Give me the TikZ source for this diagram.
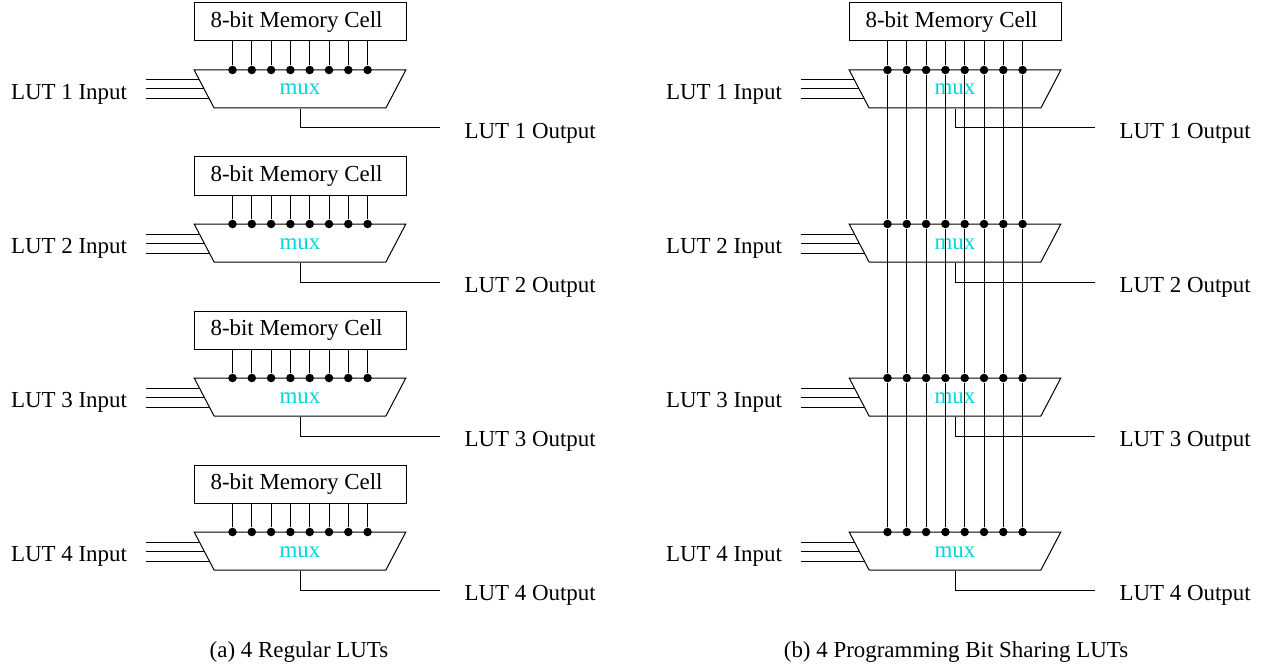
\documentclass[tikz,border=0pt]{standalone}
\usepackage{fontspec}
\setmainfont{Liberation Serif}
\usetikzlibrary{shapes.geometric, positioning, calc}
\tikzset{
    every node/.append style={font=\fontsize{17.2}{20}\selectfont},
    memcell/.style={draw, inner sep=0pt, minimum width=159pt, minimum height=28.5pt, execute at end node=\hspace{5.2pt}},
    muxbox/.style={draw, trapezium, shape border rotate=180, trapezium stretches=true, inner sep=0pt,
        trapezium angle=68.5, minimum width=159pt, minimum height=28.5pt, text=muxcyan, text height=9pt, text depth=0pt},
    bitdot/.style={circle, fill=black, inner sep=0pt, minimum size=6.4pt},
    lutlabel/.style={inner sep=0pt}
}
\definecolor{muxcyan}{RGB}{0,214,214}
\begin{document}
\begin{tikzpicture}[x=0.75pt,y=-0.75pt,line width=0.75pt]
    \useasboundingbox (0,0) rectangle (1265,667);

    % Memory cells
    \foreach \lut/\yy in {1/0,2/154,3/308,4/462}
        \node[memcell] (mema\lut) at (300,22+\yy) {8-bit Memory Cell};
    \node[memcell] (memb1) at (955,22) {8-bit Memory Cell};

    % Muxes, inputs, outputs
    \foreach \col/\xx in {a/0,b/655}
    \foreach \lut/\yy in {1/0,2/154,3/308,4/462} {
        \node[muxbox] (mux\col\lut) at (300+\xx,89+\yy) {mux};
        \node[lutlabel, anchor=base east] (in\col\lut) at (127.5+\xx,99+\yy) {LUT \lut{} Input};
        \node[lutlabel, anchor=base west] (out\col\lut) at (464+\xx,138+\yy) {LUT \lut{} Output};
        \coordinate (outend\col\lut) at (440+\xx,128+\yy);
        \draw (mux\col\lut.south) |- (outend\col\lut);
        \foreach \dx/\dy in {5/10,9.5/19,14.5/29} {
            \coordinate (instart) at (146+\xx,70+\dy+\yy);
            \coordinate (inend) at ($(mux\col\lut.center)+(-106+\dx,-19+\dy)$);
            \draw (instart) -- (inend);
        }
        % Dots on the top edge
        \foreach \bit in {1,...,8}
            \node[bitdot] (dot\col\lut\bit) at (232.5+19.3*\bit-19.3+\xx,70+\yy) {};
    }

    % Wires, regular
    \foreach \lut in {1,2,3,4}
    \foreach \bit in {1,...,8}
        \draw (dota\lut\bit |- mema\lut.south) -- (dota\lut\bit);

    % Wires, shared
    \foreach \bit in {1,...,8} {
        \draw (dotb1\bit |- memb1.south) -- (dotb1\bit);
        \draw (dotb1\bit) -- (dotb2\bit) -- (dotb3\bit) -- (dotb4\bit);
    }

    % Captions
    \node[lutlabel, anchor=base] (capa) at (299,657) {(a) 4 Regular LUTs};
    \node[lutlabel, anchor=base] (capb) at (956,657) {(b) 4 Programming Bit Sharing LUTs};
\end{tikzpicture}
\end{document}
